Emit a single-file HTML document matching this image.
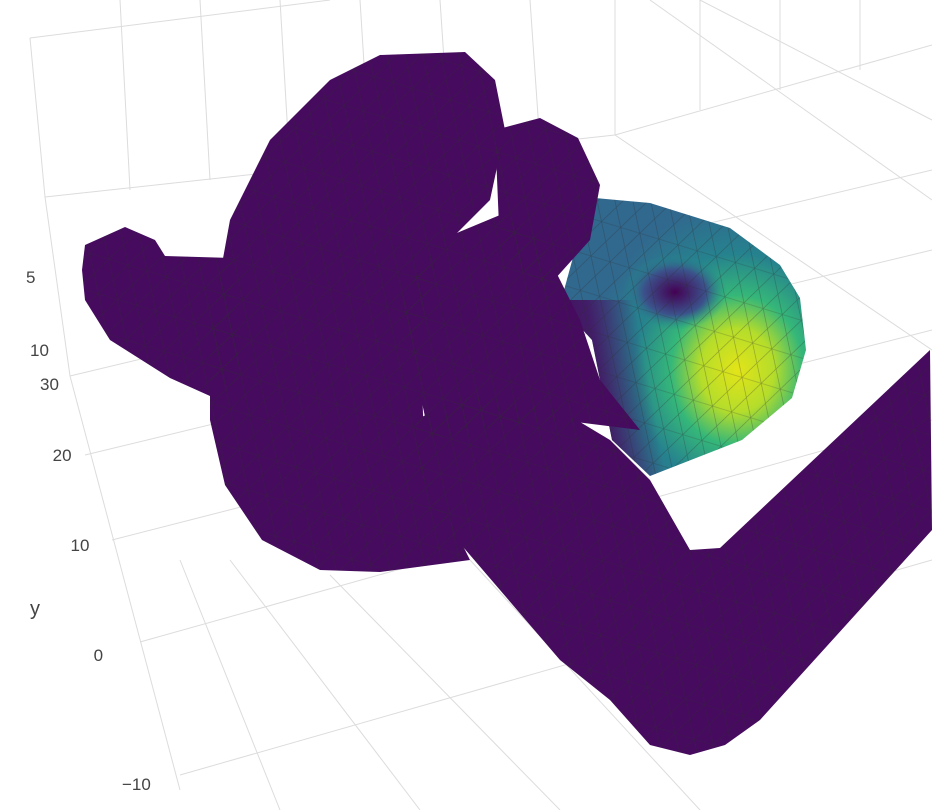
<!DOCTYPE html>
<html><head><meta charset="utf-8"><style>
body{margin:0;background:#fff;}
svg{display:block;font-family:"Liberation Sans",sans-serif;}
</style></head><body>
<svg width="932" height="810" viewBox="0 0 932 810">
<defs>
<radialGradient id="spiralGrad" cx="0.72" cy="0.62" r="0.6">
<stop offset="0" stop-color="#e3e418"/><stop offset="0.25" stop-color="#b5dd2b"/>
<stop offset="0.45" stop-color="#35b779"/><stop offset="0.7" stop-color="#26828e"/><stop offset="1" stop-color="#31688e"/>
</radialGradient>
<radialGradient id="hole" cx="0.5" cy="0.5" r="0.5">
<stop offset="0" stop-color="#440154"/><stop offset="0.6" stop-color="#3b528b"/><stop offset="1" stop-color="#21918c" stop-opacity="0"/>
</radialGradient>
<linearGradient id="fade" x1="0" x2="1" y1="0.3" y2="0"><stop offset="0" stop-color="#460b5e"/><stop offset="0.3" stop-color="#460b5e" stop-opacity="0.8"/><stop offset="0.7" stop-color="#460b5e" stop-opacity="0"/></linearGradient>
<clipPath id="spiralClip"><path d="M595 198L650 203L730 228L780 265L800 298L806 350L792 398L742 440L650 476L612 440L592 340L560 305L575 250Z"/></clipPath>
<pattern id="mesh" width="40" height="36" patternUnits="userSpaceOnUse" patternTransform="rotate(17)">
<path d="M0 0L40 0L20 36Z M0 36L20 0 M40 36L20 0 M0 36H40" fill="none" stroke="#2a2a2a" stroke-width="0.6" opacity="0.4"/>
</pattern>
</defs>
<g stroke="#dcdcdc" stroke-width="1" fill="none" id="grid"></g>
<g id="ticks" fill="#444" font-size="17"></g>
<text x="30" y="615" font-size="20" fill="#444">y</text>

<g>
<path d="M595 198L650 203L730 228L780 265L800 298L806 350L792 398L742 440L650 476L612 440L592 340L560 305L575 250Z" fill="url(#spiralGrad)"/>
<ellipse cx="675" cy="292" rx="52" ry="38" fill="url(#hole)"/>
<g clip-path="url(#spiralClip)">
<rect x="560" y="300" width="110" height="180" fill="url(#fade)"/>
</g>
<path d="M595 198L650 203L730 228L780 265L800 298L806 350L792 398L742 440L650 476L612 440L592 340L560 305L575 250Z" fill="url(#mesh)"/>
</g>

<g fill="#460b5e">
<path d="M85 245L125 227L155 240L165 256L232 258L240 380L210 396L170 378L110 340L85 300L82 270Z"/>
<path d="M495 130L540 118L578 138L600 185L590 240L545 290L500 250Z"/>
<path d="M230 220L270 140L330 80L380 55L465 52L495 80L505 130L490 200L440 250L420 330L425 470L470 560L380 572L320 570L262 540L225 485L210 420L210 330Z"/>
<path d="M400 300L440 240L500 215L540 240L560 280L580 320L600 380L640 430L560 420L470 430L430 440Z"/>
<path d="M415 420L470 395L560 410L610 440L650 480L690 550L720 548L930 350L932 530L760 720L725 745L690 755L650 745L610 700L560 660L500 590L440 520L420 470Z"/>
<g fill="url(#mesh)">
<path d="M85 245L125 227L155 240L165 256L232 258L240 380L210 396L170 378L110 340L85 300L82 270Z"/>
<path d="M495 130L540 118L578 138L600 185L590 240L545 290L500 250Z"/>
<path d="M230 220L270 140L330 80L380 55L465 52L495 80L505 130L490 200L440 250L420 330L425 470L470 560L380 572L320 570L262 540L225 485L210 420L210 330Z"/>
<path d="M400 300L440 240L500 215L540 240L560 280L580 320L600 380L640 430L560 420L470 430L430 440Z"/>
<path d="M415 420L470 395L560 410L610 440L650 480L690 550L720 548L930 350L932 530L760 720L725 745L690 755L650 745L610 700L560 660L500 590L440 520L420 470Z"/>
</g>
</g>
</svg>
<script>
const zTickLabels=["5","10"];
const zTickY=[277,350];
const yTickLabels=["30","20","10","0","\u221210"];
const yTickVals=[30,20,10,0,-10];
const ns="http://www.w3.org/2000/svg";
const tk=document.getElementById('ticks');
function tickPos(v){
 const t=(30-v)/40;
 return [40+40*t+42*t*t, 390+244*t+156*t*t];
}
yTickVals.forEach((v,i)=>{
 const t=document.createElementNS(ns,'text');
 
 
 const p=tickPos(v);
 t.setAttribute('x',p[0]);t.setAttribute('y',p[1]);t.textContent=yTickLabels[i];tk.appendChild(t);
});
zTickLabels.forEach((l,i)=>{
 const t=document.createElementNS(ns,'text');
 
 
 t.setAttribute('x',i==0?26:30);t.setAttribute('y',zTickY[i]+6);t.textContent=l;tk.appendChild(t);
});
const g=document.getElementById('grid');
const lines=[[30,38,330,0],[45,197,615,135],[615,135,932,45],[615,0,615,135],[615,135,932,350],
[30,38,45,197],[45,197,70,376],[70,376,180,790],
[85,455,932,250],[112,540,932,330],[140,642,932,420],[180,775,932,560],[70,376,932,170],
[120,0,130,190],[200,0,210,180],[280,0,290,170],[360,0,370,160],[440,0,450,150],[530,0,540,145],
[700,0,700,110],[780,0,780,90],[860,0,860,70],
[230,560,420,810],[330,575,560,810],[470,560,700,810],[180,560,280,810],[650,0,932,200],[700,0,932,120]];
lines.forEach(l=>{const e=document.createElementNS(ns,'line');


e.setAttribute('x1',l[0]);e.setAttribute('y1',l[1]);e.setAttribute('x2',l[2]);e.setAttribute('y2',l[3]);g.appendChild(e);});
</script>
</body></html>
